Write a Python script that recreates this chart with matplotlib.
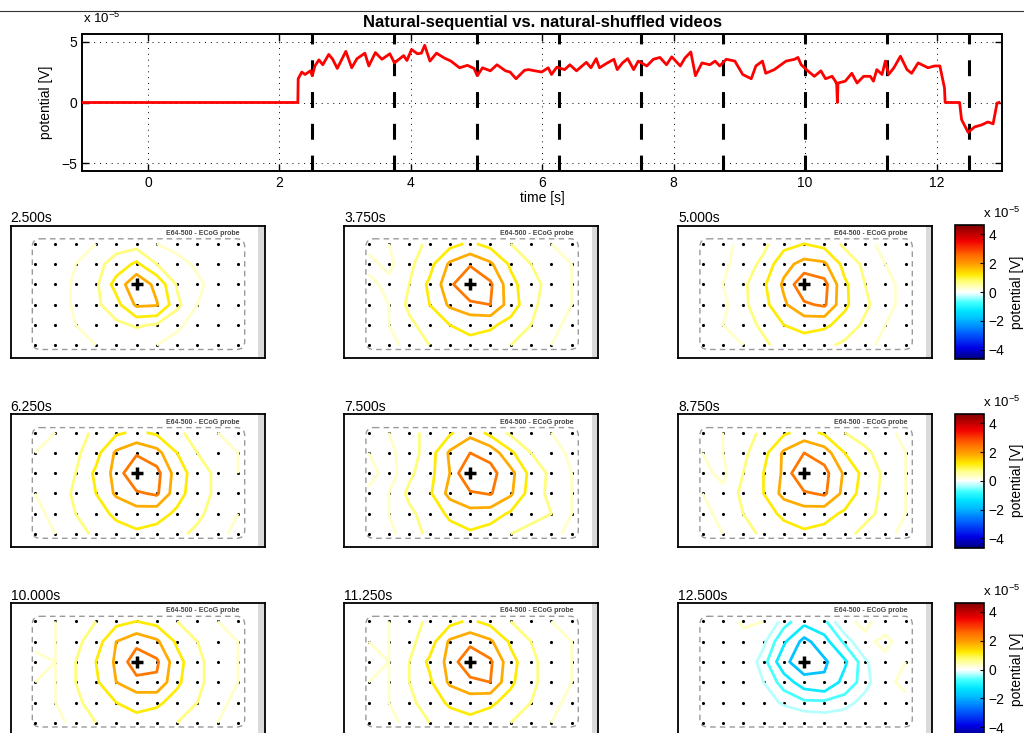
import numpy as np
import matplotlib
matplotlib.use('Agg')
import matplotlib.pyplot as plt
from matplotlib.colors import LinearSegmentedColormap, Normalize
from matplotlib.patches import FancyBboxPatch, Rectangle
from matplotlib.lines import Line2D
from matplotlib.ticker import FuncFormatter, FixedLocator

plt.rcParams['font.family'] = ['Liberation Sans', 'DejaVu Sans']
plt.rcParams['mathtext.fontset'] = 'custom'
plt.rcParams['mathtext.rm'] = 'Liberation Sans'
plt.rcParams['axes.unicode_minus'] = True

### trace at the marked electrode (units of 1e-5 V)
trace_t = [-1.0, 2.28, 2.285, 2.34, 2.39, 2.47, 2.50, 2.54, 2.60, 2.66, 2.75, 2.81, 2.88, 3.01,
           3.10, 3.18, 3.30, 3.36, 3.46, 3.56, 3.68, 3.75, 3.89, 3.94, 4.01, 4.10, 4.16, 4.21,
           4.29, 4.39, 4.51, 4.61, 4.74, 4.86, 4.96, 5.01, 5.09, 5.21, 5.31, 5.44, 5.51, 5.60,
           5.73, 5.79, 5.99, 6.09, 6.14, 6.22, 6.34, 6.42, 6.52, 6.67, 6.74, 6.82, 6.87, 6.99,
           7.09, 7.14, 7.22, 7.30, 7.39, 7.46, 7.59, 7.69, 7.79, 7.89, 7.97, 8.10, 8.17, 8.26,
           8.33, 8.43, 8.55, 8.63, 8.70, 8.80, 8.93, 9.05, 9.18, 9.25, 9.35, 9.40, 9.53, 9.71,
           9.84, 9.89, 9.94, 10.04, 10.14, 10.24, 10.31, 10.41, 10.46, 10.48, 10.49, 10.50,
           10.61, 10.71, 10.79, 10.89, 10.99, 11.04, 11.09, 11.17, 11.22, 11.27, 11.35, 11.45,
           11.55, 11.62, 11.72, 11.87, 11.97, 12.05, 12.12, 12.13, 12.35, 12.38, 12.48, 12.58,
           12.68, 12.78, 12.86, 12.92, 12.95]
trace_v = [0.0, 0.0, 1.95, 2.5, 2.3, 2.6, 2.2, 3.0, 3.5, 3.1, 3.95, 3.55, 2.8, 4.2,
           2.85, 3.6, 4.05, 3.0, 4.1, 3.55, 4.0, 3.25, 3.85, 3.45, 4.35, 4.0, 4.05, 4.7,
           3.4, 4.05, 3.65, 3.4, 2.85, 3.05, 2.8, 2.2, 2.85, 2.6, 3.1, 2.6, 2.5, 1.95,
           2.65, 2.7, 2.5, 2.85, 2.3, 2.9, 2.7, 3.1, 2.6, 3.3, 2.85, 3.6, 2.85, 3.25,
           3.55, 2.7, 3.25, 3.6, 2.7, 3.4, 3.0, 3.55, 3.7, 3.1, 3.75, 3.0, 3.65, 4.15,
           2.2, 3.25, 3.1, 3.4, 3.0, 3.55, 3.4, 2.3, 1.95, 3.0, 3.4, 2.4, 2.7, 3.4,
           3.55, 3.7, 3.1, 2.6, 2.15, 2.6, 1.95, 2.15, 1.75, 1.5, 0.0, 1.6,
           1.75, 2.4, 1.6, 2.15, 2.15, 1.75, 2.7, 2.3, 3.4, 2.3, 2.85, 3.8,
           2.7, 2.4, 3.25, 2.85, 3.0, 3.0, 1.2, 0.0, 0.0, -1.4, -2.45, -2.0,
           -1.85, -1.6, -1.75, -0.05, 0.0]

frame_times = [2.5, 3.75, 5.0, 6.25, 7.5, 8.75, 10.0, 11.25, 12.5]
frame_labels = ['2.500s', '3.750s', '5.000s', '6.250s', '7.500s', '8.750s',
                '10.000s', '11.250s', '12.500s']

### electrode potentials, 6 rows x 11 columns (units of 1e-5 V)
map_2500 = [[0, 0, 0.1, 0.3, 0.5, 0.5, 0.3, 0.1, 0, 0, 0],
            [0, 0, 0.3, 0.55, 0.9, 1.3, 0.7, 0.5, 0.2, 0, 0],
            [0, 0, 0.4, 0.6, 1.4, 2.3, 1.6, 0.65, 0.4, 0.1, 0],
            [0, 0, 0.4, 0.6, 1.0, 1.9, 1.85, 0.8, 0.3, 0, 0],
            [0, 0, 0.3, 0.5, 0.6, 0.75, 0.65, 0.4, 0.1, 0, 0],
            [0, 0, 0.1, 0.3, 0.4, 0.4, 0.3, 0.1, 0, 0, 0]]
map_3750 = [[0.2, 0.3, 0.5, 0.8, 1.0, 1.3, 1.0, 0.7, 0.5, 0.3, 0.2],
            [0.4, 0.2, 0.6, 1.0, 1.9, 2.3, 1.9, 1.1, 0.7, 0.5, 0.3],
            [0.2, 0.4, 0.7, 1.3, 2.2, 3.3, 2.5, 1.4, 0.8, 0.6, 0.3],
            [0.3, 0.3, 0.8, 1.2, 1.9, 2.2, 2.4, 1.5, 0.8, 0.5, 0.3],
            [0.2, 0.3, 0.6, 0.9, 1.2, 1.4, 1.3, 1.0, 0.7, 0.4, 0.2],
            [0.1, 0.2, 0.4, 0.7, 0.9, 1.0, 0.9, 0.7, 0.5, 0.3, 0.1]]
map_5000 = [[0.1, 0.2, 0.4, 0.6, 1.0, 1.2, 1.0, 0.6, 0.4, 0.2, 0.1],
            [0.1, 0.2, 0.5, 0.8, 1.6, 2.0, 1.9, 1.0, 0.6, 0.3, 0.2],
            [0.3, 0.3, 0.6, 1.1, 1.9, 2.9, 2.6, 1.3, 0.7, 0.4, 0.2],
            [0.2, 0.2, 0.6, 1.0, 1.7, 2.3, 2.5, 1.3, 0.8, 0.4, 0.2],
            [0.3, 0.3, 0.5, 0.8, 1.2, 1.4, 1.3, 1.0, 0.6, 0.3, 0.2],
            [0.1, 0.2, 0.3, 0.6, 0.9, 0.9, 0.8, 0.6, 0.4, 0.2, 0.1]]
map_6250 = [[0.2, 0.3, 0.5, 0.8, 1.1, 1.3, 1.1, 0.8, 0.5, 0.3, 0.2],
            [0.3, 0.4, 0.6, 1.0, 1.9, 2.3, 2.0, 1.2, 0.7, 0.5, 0.3],
            [0.5, 0.3, 0.7, 1.3, 2.0, 3.1, 2.6, 1.5, 0.9, 0.6, 0.3],
            [0.3, 0.4, 0.8, 1.2, 1.9, 2.3, 2.5, 1.4, 0.9, 0.6, 0.4],
            [0.2, 0.4, 0.7, 1.0, 1.3, 1.5, 1.4, 1.1, 0.8, 0.5, 0.3],
            [0.2, 0.3, 0.5, 0.8, 1.0, 1.1, 1.0, 0.8, 0.6, 0.4, 0.2]]
map_7500 = [[0.2, 0.3, 0.6, 0.8, 1.1, 1.6, 1.0, 0.6, 0.5, 0.3, 0.2],
            [0.3, 0.2, 0.5, 0.9, 1.9, 2.4, 2.2, 1.3, 0.7, 0.5, 0.2],
            [0.5, 0.1, 0.6, 1.0, 1.8, 3.2, 2.6, 2.0, 1.0, 0.6, 0.3],
            [0.2, 0.3, 0.8, 1.1, 2.0, 2.3, 2.45, 1.9, 0.9, 0.6, 0.3],
            [0.1, 0.3, 0.6, 0.9, 1.3, 1.6, 1.5, 1.1, 0.8, 0.7, 0.3],
            [0.1, 0.2, 0.5, 0.8, 1.0, 1.1, 0.9, 0.7, 0.6, 0.4, 0.2]]
map_8750 = [[0.2, 0.3, 0.5, 0.8, 1.1, 1.4, 1.1, 0.7, 0.5, 0.4, 0.2],
            [0.3, 0.3, 0.6, 1.0, 1.9, 2.4, 2.1, 1.2, 0.8, 0.5, 0.3],
            [0.4, 0.2, 0.7, 1.2, 1.9, 3.2, 2.6, 1.7, 1.0, 0.6, 0.3],
            [0.3, 0.4, 0.8, 1.2, 2.0, 2.3, 2.5, 1.6, 0.9, 0.6, 0.3],
            [0.2, 0.4, 0.7, 1.0, 1.3, 1.5, 1.4, 1.1, 0.8, 0.6, 0.3],
            [0.1, 0.3, 0.5, 0.8, 1.0, 1.1, 1.0, 0.8, 0.6, 0.4, 0.2]]
map_10000 = [[0.2, 0.3, 0.5, 0.7, 1.0, 1.2, 1.0, 0.7, 0.5, 0.3, 0.2],
             [0.2, 0.3, 0.6, 0.9, 1.8, 2.2, 1.9, 1.1, 0.7, 0.4, 0.3],
             [0.4, 0.3, 0.7, 1.2, 1.9, 2.8, 2.5, 1.4, 0.8, 0.5, 0.3],
             [0.3, 0.3, 0.7, 1.1, 1.8, 2.2, 2.3, 1.3, 0.8, 0.5, 0.3],
             [0.2, 0.3, 0.6, 0.9, 1.2, 1.4, 1.3, 1.0, 0.7, 0.4, 0.2],
             [0.1, 0.2, 0.4, 0.7, 0.9, 1.0, 0.9, 0.7, 0.5, 0.3, 0.1]]
map_11250 = [[0.2, 0.3, 0.5, 0.8, 1.0, 1.3, 1.0, 0.7, 0.5, 0.3, 0.2],
             [0.3, 0.3, 0.6, 0.9, 1.9, 2.2, 1.9, 1.1, 0.7, 0.4, 0.3],
             [0.4, 0.3, 0.7, 1.3, 2.0, 3.0, 2.5, 1.4, 0.8, 0.5, 0.3],
             [0.3, 0.3, 0.7, 1.1, 1.9, 2.2, 2.4, 1.3, 0.8, 0.5, 0.3],
             [0.2, 0.3, 0.6, 0.9, 1.3, 1.5, 1.3, 1.0, 0.7, 0.4, 0.2],
             [0.1, 0.2, 0.4, 0.7, 0.9, 1.0, 0.9, 0.7, 0.5, 0.3, 0.1]]
map_12500 = [[0.0, 0.1, 0.35, 0.3, -0.5, -1.0, -0.8, 0.2, 0.4, 0.1, 0.0],
             [0.1, 0.3, 0.2, -0.2, -1.1, -2.0, -1.4, -0.6, 0.2, 0.4, 0.1],
             [0.3, 0.3, 0.1, -0.5, -1.6, -2.3, -1.9, -1.3, -0.4, 0.2, 0.3],
             [0.1, 0.2, 0.1, -0.3, -0.9, -1.5, -1.7, -1.0, -0.5, 0.2, 0.4],
             [0.3, 0.3, 0.3, 0.0, -0.4, -0.6, -0.6, -0.5, -0.1, 0.3, 0.2],
             [0.1, 0.2, 0.2, 0.3, 0.3, 0.1, 0.0, 0.1, 0.3, 0.1, 0.0]]
maps = [map_2500, map_3750, map_5000, map_6250, map_7500, map_8750,
        map_10000, map_11250, map_12500]

contour_levels = [-2.4, -1.8, -1.2, -0.7, -0.3, 0.3, 0.7, 1.2, 1.8, 2.4]
clim = 4.66
cbar_ticks = [-4, -2, 0, 2, 4]

### colormap: dark blue - cyan - white - yellow - dark red
cmap = LinearSegmentedColormap.from_list('bwr_jet', [
    (0.0, (0, 0, 0.5)), (0.08, (0, 0, 0.9)), (0.2, (0, 0.4, 1)), (0.3, (0, 0.75, 1)),
    (0.36, (0, 0.9, 1)), (0.42, (0.25, 1, 1)), (0.47, (0.75, 1, 1)), (0.5, (1, 1, 1)),
    (0.575, (1, 1, 0.5)), (0.63, (1, 0.92, 0)), (0.7, (1, 0.65, 0)), (0.78, (1, 0.4, 0)),
    (0.88, (0.95, 0, 0)), (1.0, (0.5, 0, 0))])
norm = Normalize(-clim * 1e-5, clim * 1e-5)

def fmt_e5(v, p):
    n = int(round(v / 1e-5))
    return '\u2212%d' % -n if n < 0 else '%d' % n

W, H = 1024, 733
fig = plt.figure(figsize=(W / 100, H / 100), dpi=100)

def px_axes(left, top, width, height):
    return fig.add_axes([left / W, 1 - (top + height) / H, width / W, height / H])

fig.add_artist(Line2D([0, 1], [1 - 10.5 / H, 1 - 10.5 / H], color='#333333', lw=0.8))

### top trace
ax = px_axes(82.3, 34.3, 920, 136.4)
ax.plot(trace_t, np.array(trace_v) * 1e-5, color='red', lw=2, zorder=3)
for t in frame_times:
    ax.axvline(t, color='k', lw=2.2, dashes=(5.2, 5.2), zorder=2)
ax.set_xlim(-1, 13)
ax.set_ylim(-5.6e-5, 5.6e-5)
ax.set_xticks(range(0, 13, 2))
ax.set_yticks([-5e-5, 0, 5e-5])
ax.yaxis.set_major_formatter(FuncFormatter(fmt_e5))
ax.grid(True, linestyle=(0, (1, 5)), color='k', lw=0.7)
ax.tick_params(direction='in', top=True, right=True, length=5, width=1, labelsize=10)
for s in ax.spines.values():
    s.set_linewidth(1.4)
ax.set_xlabel('time [s]', fontsize=10, labelpad=1)
ax.set_ylabel('potential [V]', fontsize=10, labelpad=6)
ax.set_title('Natural-sequential vs. natural-shuffled videos', fontsize=12, fontweight='bold', pad=5)
fig.text(83 / W, 1 - 18 / H, 'x 10$^{-5}$', fontsize=9.5, va='center')

### electrode maps
cols = np.arange(11)
rows = np.arange(6)
ex = 24.3 + 20.3 * cols
ey = 18.3 + 20.3 * rows
EX, EY = np.meshgrid(ex, ey)
col_left = [10.7, 344.3, 678.3]
row_top = [225.5, 414.3, 603.0]

for i, (lbl, grid) in enumerate(zip(frame_labels, maps)):
    r, c = i // 3, i % 3
    ax = px_axes(col_left[c], row_top[r], 254, 132.5)
    ax.set_xlim(0, 254)
    ax.set_ylim(132.5, 0)
    ax.set_xticks([])
    ax.set_yticks([])
    for s in ax.spines.values():
        s.set_linewidth(1.3)
    ax.add_patch(Rectangle((247.5, 0), 7, 132.5, color='#dadada', lw=0))
    ax.add_patch(FancyBboxPatch((21.6, 13.3), 212.4, 110.7,
                                boxstyle='round,pad=0,rounding_size=8',
                                fill=False, edgecolor='#9a9a9a', lw=1.0,
                                linestyle=(0, (4, 3))))
    ax.text(229, 8, 'E64-500 - ECoG probe', fontsize=5, fontweight='bold',
            color='#444444', ha='right', va='center')
    ax.scatter(EX.ravel(), EY.ravel(), s=5, color='k', lw=0, zorder=2)
    ax.contour(EX, EY, np.array(grid) * 1e-5, levels=np.array(contour_levels) * 1e-5,
               cmap=cmap, norm=norm, linewidths=2, zorder=3)
    ax.plot(ex[5], ey[2], '+', color='k', ms=8, mew=2.5, zorder=4)
    ax.set_title(lbl, loc='left', fontsize=10, pad=2.5)

    if c == 2:
        cax = px_axes(955, row_top[r] - 0.5, 29, 134)
        sm = plt.cm.ScalarMappable(cmap=cmap, norm=norm)
        sm.set_array([])
        cb = fig.colorbar(sm, cax=cax)
        cb.locator = FixedLocator(np.array(cbar_ticks) * 1e-5)
        cb.formatter = FuncFormatter(fmt_e5)
        cb.update_ticks()
        cax.tick_params(direction='in', length=3, width=0.8, labelsize=10, pad=3)
        cb.outline.set_linewidth(1.2)
        cb.set_label('potential [V]', fontsize=10, labelpad=4)
        fig.text(983 / W, 1 - (row_top[r] - 12) / H, 'x 10$^{-5}$', fontsize=9.5, va='center')

plt.savefig('out.png', dpi=100)
